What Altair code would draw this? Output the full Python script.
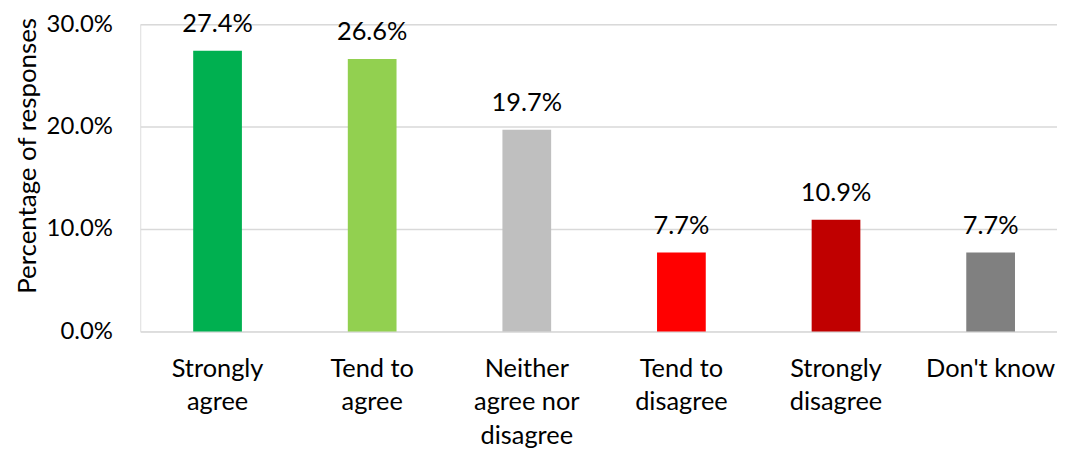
import altair as alt
import pandas as pd

categories = ["Strongly|agree", "Tend to|agree", "Neither|agree nor|disagree",
              "Tend to|disagree", "Strongly|disagree", "Don't know"]
values = [0.274, 0.266, 0.197, 0.077, 0.109, 0.077]
colors = ["#00B050", "#92D050", "#BFBFBF", "#FF0000", "#C00000", "#808080"]

df = pd.DataFrame({"cat": categories, "val": values, "color": colors})

FONT = "Lato"
W, H = 922, 309

x = alt.X("cat:N", sort=categories, title=None,
          scale=alt.Scale(range=[0, 933], paddingInner=0, paddingOuter=0),
          axis=alt.Axis(labelExpr="split(datum.label, '|')", labelAngle=0,
                        labelFontSize=25.5, labelFont=FONT, labelColor="#000000",
                        labelLineHeight=34, labelPadding=25, labelBaseline="top",
                        ticks=False, domain=False, grid=False, labelLimit=300))
y = alt.Y("val:Q", title="Percentage of responses",
          scale=alt.Scale(domain=[0, 0.3], nice=False),
          axis=alt.Axis(format=".1%", values=[0, 0.1, 0.2, 0.3],
                        labelFontSize=24, labelFont=FONT, labelColor="#000000",
                        labelPadding=28, ticks=False, domain=False,
                        grid=True, gridColor="#D9D9D9", gridWidth=1.5,
                        titleFont=FONT, titleFontSize=26, titleFontWeight="normal",
                        titleColor="#000000", titlePadding=6, titleY=132))

bars = alt.Chart(df).mark_bar(size=49).encode(
    x=x, y=y, color=alt.Color("color:N", scale=None))

labels = alt.Chart(df).mark_text(baseline="alphabetic", dy=-19, fontSize=25.5,
                                 font=FONT, color="#000000").encode(
    x=alt.X("cat:N", sort=categories), y="val:Q",
    text=alt.Text("val:Q", format=".1%"))

chart = (bars + labels).properties(
    width=W, height=H,
    autosize=alt.AutoSizeParams(type="none"),
    padding={"left": 133, "top": 15, "right": 0, "bottom": 119},
).configure_view(stroke=None).configure(background="white")

chart.save("out.html", embed_options={"renderer": "svg", "actions": False})
